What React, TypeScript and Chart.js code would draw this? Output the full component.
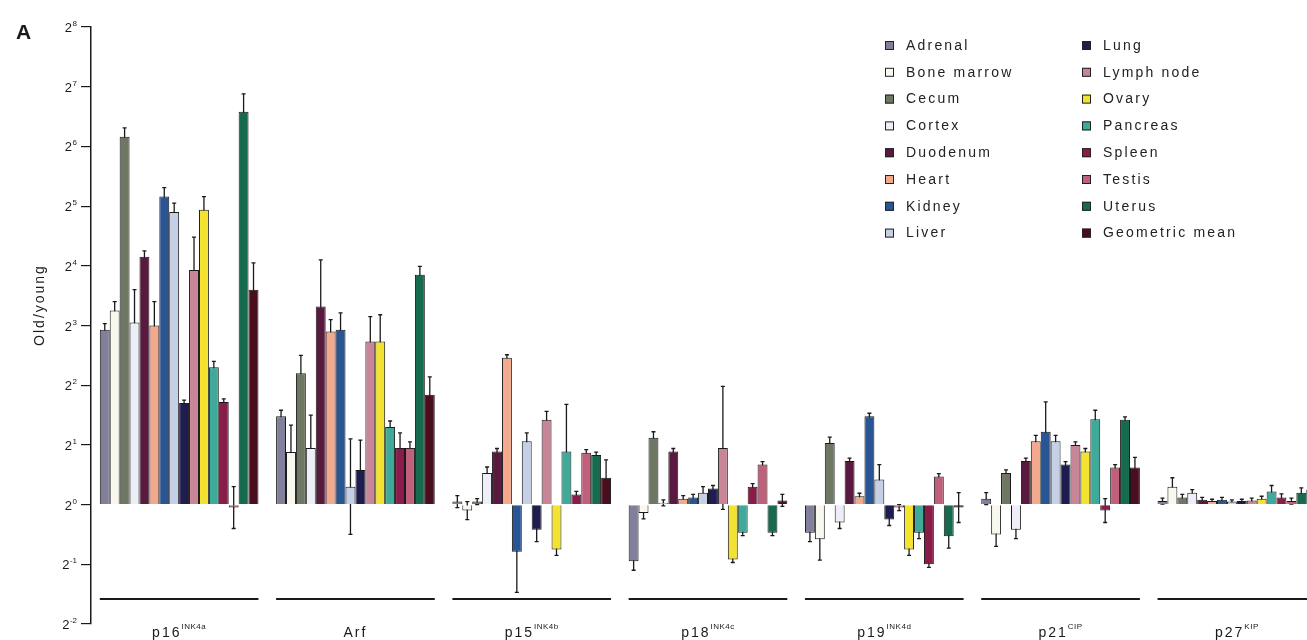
import React, { useEffect, useRef } from 'react';
import { Chart, registerables } from 'chart.js';

Chart.register(...registerables);

// ---- data (log2 of old/young ratio) ----
const groups = ['p16', 'Arf', 'p15', 'p18', 'p19', 'p21', 'p27'];
const groupSup = ['INK4a', '', 'INK4b', 'INK4c', 'INK4d', 'CIP', 'KIP'];
const yTicks = [-2, -1, 0, 1, 2, 3, 4, 5, 6, 7, 8];

const tissues = [
  'Adrenal', 'Bone marrow', 'Cecum', 'Cortex', 'Duodenum', 'Heart', 'Kidney', 'Liver',
  'Lung', 'Lymph node', 'Ovary', 'Pancreas', 'Spleen', 'Testis', 'Uterus', 'Geometric mean',
];
const tissueColors = [
  '#80809a', '#f8f8ee', '#6e7763', '#eeeef8', '#5a1a40', '#f2a98e', '#2a5595', '#c5cfe6',
  '#1f1d4f', '#c98598', '#f3e330', '#3fa99a', '#8a1c4a', '#c0607a', '#166b4f', '#4a0e1e',
];

const adrenal = [2.93, 1.48, 0.05, -0.95, -0.47, 0.1, 0.06];
const boneMarrow = [3.25, 0.88, -0.1, -0.14, -0.58, -0.5, 0.3];
const cecum = [6.16, 2.2, 0.05, 1.12, 1.03, 0.53, 0.12];
const cortex = [3.05, 0.95, 0.53, 0.03, -0.3, -0.42, 0.2];
const duodenum = [4.15, 3.32, 0.89, 0.89, 0.73, 0.73, 0.08];
const heart = [3.0, 2.9, 2.46, 0.1, 0.14, 1.06, 0.06];
const kidney = [5.16, 2.93, -0.79, 0.12, 1.48, 1.22, 0.08];
const liver = [4.9, 0.3, 1.06, 0.2, 0.42, 1.06, 0.05];
const lung = [1.7, 0.58, -0.42, 0.27, -0.25, 0.67, 0.06];
const lymphNode = [3.93, 2.73, 1.42, 0.95, -0.05, 1.0, 0.07];
const ovary = [4.94, 2.73, -0.75, -0.92, -0.75, 0.89, 0.1];
const pancreas = [2.3, 1.3, 0.89, -0.47, -0.47, 1.43, 0.22];
const spleen = [1.72, 0.95, 0.17, 0.3, -1.0, -0.1, 0.12];
const testis = [-0.05, 0.95, 0.87, 0.67, 0.47, 0.62, 0.06];
const uterus = [6.58, 3.85, 0.83, -0.47, -0.53, 1.42, 0.2];
const geoMean = [3.6, 1.84, 0.45, 0.07, -0.05, 0.62, 0.25];

const adrenalErr = [0.1, 0.1, 0.1, 0.15, 0.15, 0.1, 0.05];
const boneMarrowErr = [0.15, 0.45, 0.15, 0.1, 0.35, 0.2, 0.15];
const cecumErr = [0.15, 0.3, 0.05, 0.1, 0.1, 0.05, 0.05];
const cortexErr = [0.55, 0.55, 0.1, 0.05, 0.1, 0.15, 0.05];
const duodenumErr = [0.1, 0.78, 0.05, 0.05, 0.05, 0.05, 0.04];
const heartErr = [0.4, 0.2, 0.05, 0.05, 0.05, 0.1, 0.03];
const kidneyErr = [0.15, 0.28, 0.68, 0.05, 0.05, 0.5, 0.04];
const liverErr = [0.15, 0.8, 0.14, 0.1, 0.25, 0.1, 0.03];
const lungErr = [0.05, 0.5, 0.2, 0.05, 0.1, 0.05, 0.03];
const lymphNodeErr = [0.55, 0.42, 0.14, 1.03, 0.05, 0.05, 0.04];
const ovaryErr = [0.22, 0.45, 0.1, 0.05, 0.1, 0.05, 0.04];
const pancreasErr = [0.1, 0.1, 0.79, 0.05, 0.1, 0.15, 0.1];
const spleenErr = [0.05, 0.25, 0.05, 0.05, 0.05, 0.2, 0.06];
const testisErr = [0.35, 0.1, 0.05, 0.05, 0.05, 0.05, 0.05];
const uterusErr = [0.3, 0.14, 0.05, 0.05, 0.2, 0.05, 0.08];
const geoMeanErr = [0.45, 0.3, 0.3, 0.1, 0.25, 0.17, 0.1];

const seriesValues = [
  adrenal, boneMarrow, cecum, cortex, duodenum, heart, kidney, liver,
  lung, lymphNode, ovary, pancreas, spleen, testis, uterus, geoMean,
];
const seriesErrors = [
  adrenalErr, boneMarrowErr, cecumErr, cortexErr, duodenumErr, heartErr, kidneyErr, liverErr,
  lungErr, lymphNodeErr, ovaryErr, pancreasErr, spleenErr, testisErr, uterusErr, geoMeanErr,
];

const FONT = '"Liberation Sans", Arial, Helvetica, sans-serif';
const CAT_PCT = 0.9;

const errorBarPlugin = {
  id: 'errorBars',
  beforeDatasetsDraw(chart: any) {
    const ctx = chart.ctx;
    const y = chart.scales.y;
    ctx.save();
    ctx.strokeStyle = '#1a1a1a';
    ctx.lineWidth = 1.3;
    chart.data.datasets.forEach((ds: any, i: number) => {
      const meta = chart.getDatasetMeta(i);
      meta.data.forEach((el: any, j: number) => {
        const v = ds.data[j];
        const e = seriesErrors[i][j];
        if (!e) return;
        const x = el.x;
        const y1 = y.getPixelForValue(v + e);
        const y2 = y.getPixelForValue(v - e);
        ctx.beginPath();
        ctx.moveTo(x, y1);
        ctx.lineTo(x, y2);
        ctx.moveTo(x - 2, y1);
        ctx.lineTo(x + 2, y1);
        ctx.moveTo(x - 2, y2);
        ctx.lineTo(x + 2, y2);
        ctx.stroke();
      });
    });
    ctx.restore();
  },
};

const decorPlugin = {
  id: 'decor',
  afterDraw(chart: any) {
    const ctx = chart.ctx;
    const xs = chart.scales.x;
    const ys = chart.scales.y;
    ctx.save();
    ctx.fillStyle = '#1a1a1a';
    ctx.strokeStyle = '#1a1a1a';

    // panel letter
    ctx.font = `bold 21px ${FONT}`;
    ctx.textAlign = 'left';
    ctx.textBaseline = 'alphabetic';
    (ctx as any).letterSpacing = '0px';
    ctx.fillText('A', 16, 39);

    // y tick labels 2^n
    yTicks.forEach((n) => {
      const py = ys.getPixelForValue(n);
      const exp = String(n);
      ctx.font = `8px ${FONT}`;
      (ctx as any).letterSpacing = '0px';
      const ew = ctx.measureText(exp).width;
      const right = 77;
      ctx.textAlign = 'left';
      ctx.textBaseline = 'alphabetic';
      ctx.fillText(exp, right - ew, py - 1);
      ctx.font = `13px ${FONT}`;
      ctx.textAlign = 'right';
      ctx.fillText('2', right - ew - 0.5, py + 5);
    });

    // y axis title
    ctx.save();
    ctx.translate(40, 305);
    ctx.rotate(-Math.PI / 2);
    ctx.font = `14px ${FONT}`;
    (ctx as any).letterSpacing = '2px';
    ctx.textAlign = 'center';
    ctx.textBaseline = 'middle';
    ctx.fillText('Old/young', 0, 0);
    ctx.restore();

    // group brackets and labels
    const catW = xs.width / groups.length;
    groups.forEach((g, i) => {
      const cx = xs.getPixelForValue(i);
      const half = (catW * CAT_PCT) / 2;
      ctx.lineWidth = 2;
      ctx.beginPath();
      ctx.moveTo(cx - half, 599);
      ctx.lineTo(cx + half, 599);
      ctx.stroke();

      const sup = groupSup[i];
      (ctx as any).letterSpacing = '2px';
      ctx.font = `14px ${FONT}`;
      const bw = ctx.measureText(g).width;
      ctx.font = `8px ${FONT}`;
      (ctx as any).letterSpacing = '0.5px';
      const sw = sup ? ctx.measureText(sup).width : 0;
      const start = cx - (bw + sw) / 2;
      ctx.textAlign = 'left';
      ctx.textBaseline = 'alphabetic';
      (ctx as any).letterSpacing = '2px';
      ctx.font = `14px ${FONT}`;
      ctx.fillText(g, start, 637);
      if (sup) {
        (ctx as any).letterSpacing = '0.5px';
        ctx.font = `8px ${FONT}`;
        ctx.fillText(sup, start + bw, 629);
      }
    });

    // legend
    (ctx as any).letterSpacing = '2.2px';
    ctx.font = `14px ${FONT}`;
    ctx.textAlign = 'left';
    ctx.textBaseline = 'middle';
    tissues.forEach((t, i) => {
      const col = i < 8 ? 0 : 1;
      const row = i % 8;
      const sx = col === 0 ? 885 : 1082;
      const sy = 45 + row * 26.8;
      ctx.fillStyle = tissueColors[i];
      ctx.fillRect(sx, sy - 4, 9, 9);
      ctx.lineWidth = 1;
      ctx.strokeStyle = '#222';
      ctx.strokeRect(sx + 0.5, sy - 3.5, 8, 8);
      ctx.fillStyle = '#222';
      ctx.fillText(t, sx + 21, sy + 1);
    });
    ctx.restore();
  },
};

export default function App() {
  const ref = useRef<HTMLCanvasElement | null>(null);
  useEffect(() => {
    if (!ref.current) return;
    const chart = new Chart(ref.current, {
      type: 'bar',
      data: {
        labels: groups,
        datasets: tissues.map((t, i) => ({
          label: t,
          data: seriesValues[i],
          backgroundColor: tissueColors[i],
          borderColor: '#1a1a1a',
          borderWidth: 1,
          categoryPercentage: CAT_PCT,
          barPercentage: 1.0,
        })),
      },
      options: {
        responsive: false,
        animation: false,
        layout: { padding: { top: 27, bottom: 16, left: 0, right: 0 } },
        plugins: { legend: { display: false }, tooltip: { enabled: false }, title: { display: false } },
        scales: {
          x: { display: false, grid: { display: false } },
          y: {
            min: -2,
            max: 8,
            ticks: { display: false, stepSize: 1 },
            grid: {
              display: true,
              drawOnChartArea: false,
              drawTicks: true,
              tickLength: 10,
              color: '#1a1a1a',
              lineWidth: 1.2,
            },
            border: { display: true, color: '#1a1a1a', width: 1.5 },
            afterFit: (scale: any) => {
              scale.width = 91;
            },
          },
        },
      },
      plugins: [errorBarPlugin, decorPlugin],
    });
    return () => chart.destroy();
  }, []);
  return (
    <div style={{ position: 'fixed', left: 0, top: 0, width: 1307, height: 640, overflow: 'hidden', background: '#fff' }}>
      <canvas ref={ref} width={1325} height={640} style={{ display: 'block' }} />
    </div>
  );
}
